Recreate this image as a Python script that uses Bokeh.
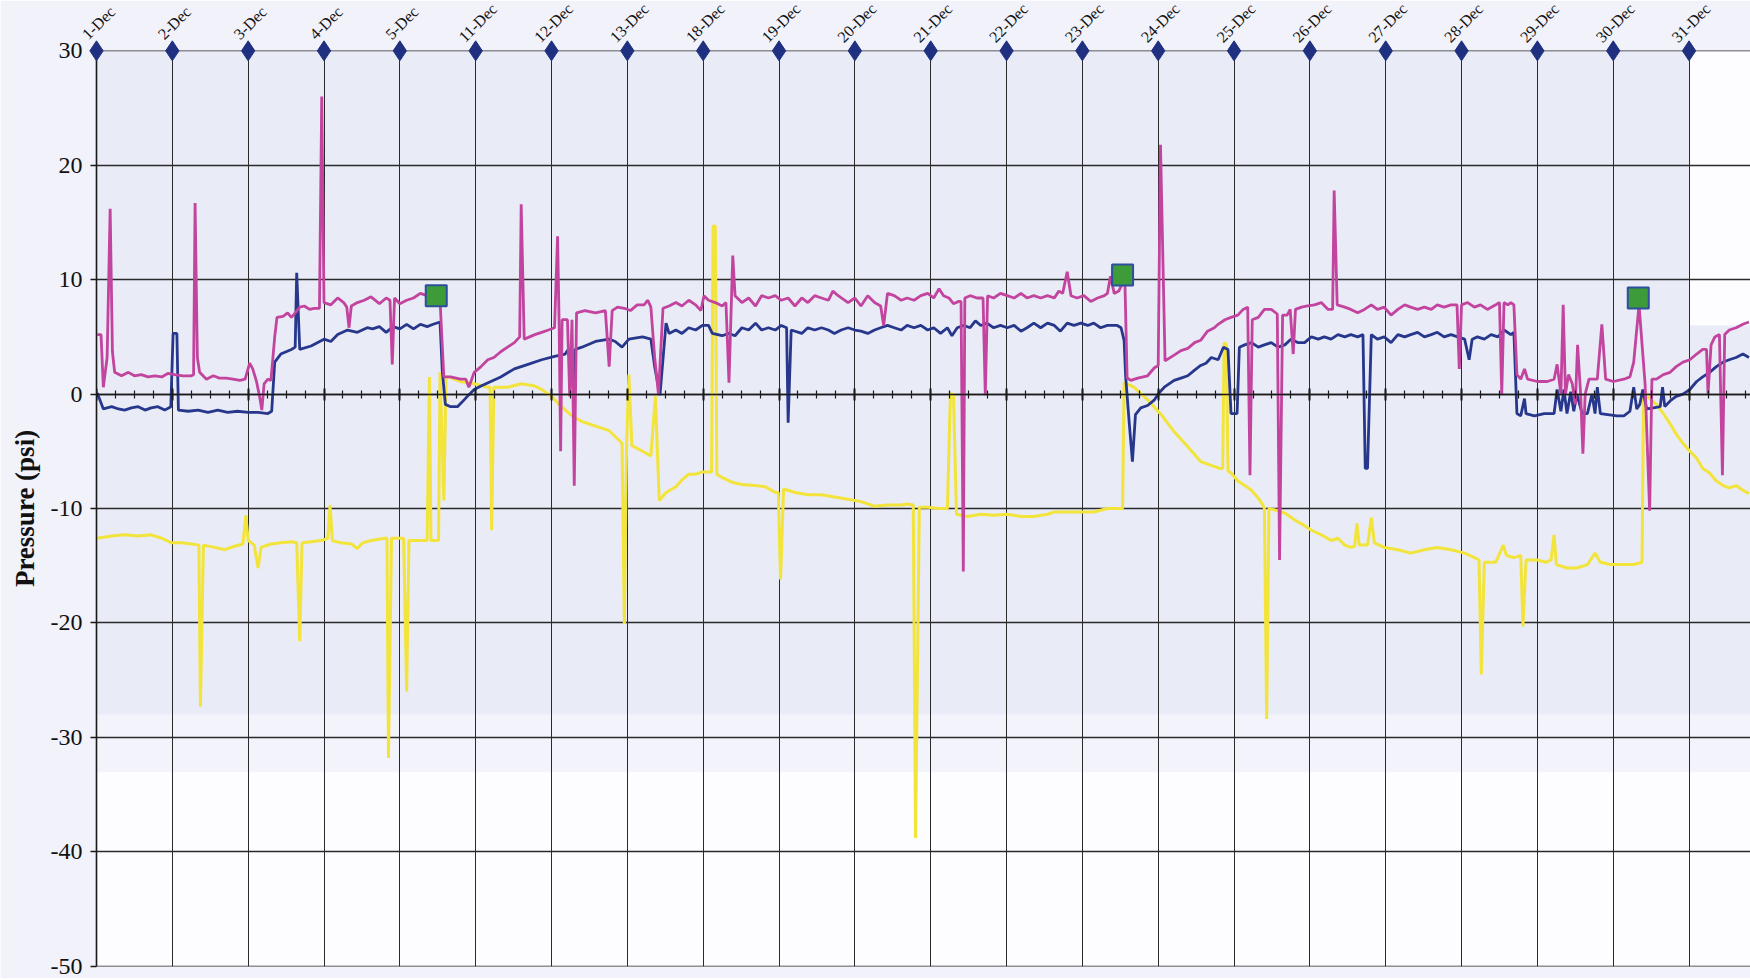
import math
from bokeh.plotting import figure
from bokeh.models import FixedTicker, Range1d, BoxAnnotation
from bokeh.core.properties import value
from bokeh.embed import file_html
from bokeh.resources import INLINE

# ---------------- data ----------------
dates = ["1-Dec", "2-Dec", "3-Dec", "4-Dec", "5-Dec", "11-Dec", "12-Dec", "13-Dec",
         "18-Dec", "19-Dec", "20-Dec", "21-Dec", "22-Dec", "23-Dec", "24-Dec", "25-Dec",
         "26-Dec", "27-Dec", "28-Dec", "29-Dec", "30-Dec", "31-Dec"]
date_pos = list(range(len(dates)))
date_marker_y = [30, 30, 30, 30, 30, 30, 30, 30, 30, 30, 30,
                 30, 30, 30, 30, 30, 30, 30, 30, 30, 30, 30]
y_ticks = [-50, -40, -30, -20, -10, 0, 10, 20, 30]

mag_x = [0.01, 0.06, 0.09, 0.14, 0.18, 0.21, 0.24, 0.33, 0.42, 0.50, 0.59, 0.68, 0.77, 0.86, 0.94, 1.03, 1.14, 1.25, 1.28, 1.30,
         1.33, 1.36, 1.45, 1.54, 1.62, 1.71, 1.80, 1.89, 1.96, 2.02, 2.06, 2.11, 2.15, 2.18, 2.21, 2.26, 2.30, 2.35, 2.38, 2.46,
         2.52, 2.57, 2.62, 2.68, 2.74, 2.81, 2.87, 2.94, 2.97, 3.00, 3.09, 3.18, 3.26, 3.30, 3.33, 3.36, 3.44, 3.53, 3.62,
         3.73, 3.82, 3.87, 3.90, 3.93, 4.00, 4.09, 4.18, 4.27, 4.36, 4.44, 4.51, 4.53, 4.58, 4.67, 4.80, 4.87, 4.91, 4.98, 5.07,
         5.16, 5.24, 5.33, 5.42, 5.51, 5.58, 5.60, 5.64, 5.71, 5.78, 5.87, 5.96, 6.04, 6.08, 6.10, 6.12, 6.14, 6.21, 6.24, 6.27,
         6.30, 6.33, 6.44, 6.58, 6.71, 6.76, 6.80, 6.87, 6.96, 7.04, 7.13, 7.22, 7.27, 7.31, 7.36, 7.41,
         7.47, 7.55, 7.64, 7.72, 7.81, 7.90, 7.97, 8.01, 8.07, 8.16, 8.25, 8.30, 8.34, 8.37, 8.39, 8.42, 8.51, 8.60, 8.69, 8.77,
         8.86, 8.95, 9.03, 9.12, 9.21, 9.30, 9.38, 9.47, 9.56, 9.65, 9.71, 9.78, 9.91, 10.00, 10.08, 10.17, 10.26, 10.34, 10.38,
         10.43, 10.52, 10.61, 10.69, 10.78, 10.87, 10.96, 11.04,
         11.11, 11.17, 11.24, 11.30, 11.37, 11.40, 11.43, 11.45, 11.52, 11.61, 11.69, 11.72, 11.75, 11.83, 11.92, 12.01, 12.10,
         12.19, 12.27, 12.36, 12.45, 12.54, 12.63, 12.69, 12.74, 12.80, 12.85, 12.93, 13.02, 13.11, 13.20, 13.29, 13.33, 13.37,
         13.42, 13.48, 13.53, 13.56, 13.59, 13.64, 13.73, 13.86, 13.95, 14.00, 14.03, 14.09, 14.21, 14.30, 14.39, 14.48, 14.56,
         14.65, 14.74,
         14.79, 14.88, 14.96, 15.05, 15.12, 15.18, 15.21, 15.24, 15.32, 15.40, 15.49, 15.57, 15.60, 15.64, 15.70, 15.74, 15.78,
         15.81, 15.89, 15.97, 16.06, 16.15, 16.24, 16.30, 16.32, 16.36, 16.46, 16.54, 16.63, 16.72, 16.81, 16.89, 16.98, 17.07,
         17.16, 17.25, 17.33, 17.42, 17.51, 17.60, 17.68, 17.77, 17.86, 17.94, 17.97, 18.00, 18.08, 18.17, 18.25, 18.34,
         18.45, 18.50, 18.53, 18.56, 18.61, 18.65, 18.69, 18.73, 18.78, 18.83, 18.87, 19.00, 19.13, 19.22, 19.26, 19.31, 19.34,
         19.37, 19.41, 19.46, 19.50, 19.53, 19.57, 19.60, 19.63, 19.68, 19.79, 19.85, 19.90, 20.00, 20.14, 20.22, 20.27, 20.34,
         20.42, 20.48, 20.51, 20.57, 20.66, 20.75, 20.83, 20.92, 21.01, 21.10, 21.18, 21.23, 21.25, 21.29, 21.34, 21.40, 21.44,
         21.47, 21.53, 21.62, 21.71, 21.79]
mag_y = [5.2, 5.2, 0.6, 3.2, 16.2, 3.7, 1.9, 1.6, 1.9, 1.6, 1.7, 1.5, 1.6, 1.5, 1.8, 1.7, 1.6, 1.6, 1.7, 16.7,
         3.2, 1.9, 1.3, 1.6, 1.4, 1.4, 1.3, 1.2, 1.3, 2.7, 2.2, 1.1, -0.2, -1.4, 0.9, 1.3, 1.2, 5.0, 6.7, 6.8,
         7.1, 6.7, 7.1, 7.6, 7.7, 7.4, 7.5, 7.5, 26.0, 8.0, 7.8, 8.4, 8.0, 7.6, 5.8, 7.7, 8.0, 8.2, 8.5,
         7.9, 8.4, 8.2, 2.6, 8.4, 7.9, 8.2, 8.4, 8.8, 8.6, 8.8, 8.6, 8.2, 1.5, 1.5, 1.3, 1.3, 0.6, 1.9, 2.4,
         3.0, 3.2, 3.7, 4.1, 4.5, 5.0, 16.6, 4.8, 5.0, 5.2, 5.4, 5.6, 5.8, 13.8, 6.2, -5.0, 6.5, 6.5, -0.2, 6.5,
         -8.0, 7.1, 7.3, 7.1, 7.3, 2.4, 7.3, 7.6, 7.5, 7.3, 7.8, 7.8, 8.2, 7.6, 3.2, 0.0,
         7.5, 7.7, 8.0, 7.7, 8.2, 7.8, 7.3, 8.6, 8.2, 8.0, 7.7, 8.0, 1.0, 7.7, 12.1, 8.6, 8.0, 8.4, 7.7, 8.6,
         8.4, 8.6, 8.2, 8.4, 7.7, 8.4, 8.0, 8.6, 8.4, 8.2, 9.0, 8.6, 8.0, 8.4, 7.7, 8.6, 8.0, 7.7, 6.0,
         8.8, 8.6, 8.2, 8.4, 8.2, 8.6, 8.8, 8.4,
         9.2, 8.6, 8.4, 7.9, 8.1, 8.1, -15.5, 8.4, 8.6, 8.4, 8.4, -0.1, 8.6, 8.4, 8.8, 8.6, 8.4,
         8.8, 8.4, 8.6, 8.4, 8.6, 8.4, 9.0, 8.8, 10.7, 8.6, 8.4, 8.6, 8.1, 8.4, 8.6, 8.8, 10.3,
         8.8, 9.0, 9.7, 10.1, 1.4, 1.2, 1.4, 1.6, 2.3, 2.5, 21.8, 2.9, 3.4, 3.8, 4.0, 4.5, 4.7,
         5.5, 5.8,
         6.1, 6.5, 6.7, 6.9, 7.4, 7.6, -7.1, 6.5, 6.7, 7.4, 7.4, 7.0, -14.5, 6.9, 6.9, 7.4, 3.5,
         7.4, 7.6, 7.7, 7.8, 8.0, 7.4, 7.4, 17.8, 7.8, 7.6, 7.4, 7.1, 7.4, 7.8, 7.4, 7.6, 6.9,
         7.4, 7.8, 7.6, 7.4, 7.6, 7.4, 7.8, 7.6, 7.8, 7.8, 2.2, 7.8, 8.0, 7.6, 7.8, 7.4,
         7.8, 8.0, 0.0, 8.0, 7.8, 8.0, 7.8, 1.7, 1.3, 2.2, 1.3, 1.1, 1.1, 1.3, 2.6, 0.0, 7.8,
         0.0, 1.7, 0.9, -0.9, 4.3, 0.0, -5.2, 0.0, 1.3, 1.3, 6.1, 1.3, 1.1, 1.3, 1.5, 2.8, 7.8,
         0.9, -10.2, 1.3, 1.3, 1.7, 1.9, 2.4, 2.8, 3.0, 3.5, 3.9, 3.9, 0.0, 4.3, 5.0, 5.2, -7.1,
         5.2, 5.6, 5.8, 6.1, 6.3]

blue_x = [0.01, 0.09, 0.20, 0.29, 0.37, 0.46, 0.55, 0.64, 0.72, 0.81, 0.90, 0.98, 1.01, 1.06, 1.08, 1.21, 1.34, 1.47, 1.60,
          1.73, 1.86, 2.00, 2.13, 2.26, 2.31, 2.35, 2.43, 2.57, 2.62, 2.64, 2.68, 2.83, 3.00, 3.09, 3.18, 3.31, 3.44, 3.57,
          3.64, 3.73, 3.82, 3.91, 4.00, 4.09, 4.18, 4.27, 4.36, 4.44, 4.53, 4.56, 4.60, 4.67, 4.76, 4.82, 4.89, 4.98, 5.07,
          5.20, 5.33, 5.51, 5.69, 5.87, 6.04, 6.18, 6.22, 6.29, 6.31, 6.40, 6.58, 6.76, 6.84, 6.93, 7.02, 7.20, 7.31, 7.36,
          7.43,
          7.51, 7.55, 7.64, 7.72, 7.81, 7.90, 7.99, 8.07, 8.12, 8.25, 8.34, 8.42, 8.51, 8.60, 8.69, 8.77, 8.86, 8.95, 9.03,
          9.10, 9.12, 9.16, 9.30, 9.38, 9.47, 9.56, 9.65, 9.73, 9.82, 9.91, 10.00, 10.08, 10.17, 10.26, 10.34, 10.43, 10.52,
          10.61, 10.69, 10.78, 10.87, 10.96, 11.04,
          11.13, 11.22, 11.28, 11.35, 11.44, 11.52, 11.59, 11.66, 11.74, 11.83, 11.92, 12.01, 12.10, 12.19, 12.27, 12.36,
          12.45, 12.54, 12.63, 12.71, 12.80, 12.89, 12.98, 13.07, 13.15, 13.24, 13.33, 13.46, 13.51, 13.55, 13.57, 13.62,
          13.66, 13.70, 13.77, 13.86, 13.95, 14.01, 14.08, 14.21, 14.30, 14.39, 14.48, 14.56, 14.63, 14.70,
          14.79, 14.86, 14.92, 14.96, 15.04, 15.07, 15.14, 15.23, 15.32, 15.40, 15.49, 15.58, 15.67, 15.75, 15.84, 15.93,
          16.02, 16.11, 16.19, 16.28, 16.37, 16.46, 16.54, 16.63, 16.70, 16.73, 16.76, 16.81, 16.89, 16.98, 17.07, 17.16,
          17.25, 17.33, 17.42, 17.51, 17.60, 17.68, 17.77, 17.86, 17.95, 18.04, 18.10, 18.14, 18.21, 18.30, 18.39,
          18.48, 18.56, 18.65, 18.69, 18.73, 18.78, 18.83, 18.85, 18.96, 19.09, 19.22, 19.26, 19.31, 19.35, 19.39, 19.44,
          19.48, 19.52, 19.59, 19.66, 19.72, 19.76, 19.79, 19.83, 20.05, 20.14, 20.22, 20.27, 20.31, 20.35, 20.39, 20.44,
          20.53, 20.62, 20.65, 20.68, 20.75, 20.83, 20.92, 21.01, 21.10, 21.18, 21.27, 21.36, 21.45, 21.53, 21.62, 21.71,
          21.79]
blue_y = [0.1, -1.3, -1.1, -1.3, -1.4, -1.2, -1.1, -1.4, -1.2, -1.1, -1.4, -1.1, 5.3, 5.3, -1.4, -1.5, -1.4, -1.6, -1.4,
          -1.6, -1.5, -1.6, -1.6, -1.7, -1.5, 2.8, 3.5, 3.9, 4.1, 10.6, 3.9, 4.2, 4.8, 4.6, 5.2, 5.6, 5.4, 5.8,
          5.7, 5.9, 5.4, 5.9, 5.7, 6.1, 5.7, 6.1, 5.9, 6.1, 6.3, 2.0, -0.9, -1.1, -1.1, -0.7, -0.2, 0.4, 0.7,
          1.1, 1.5, 2.2, 2.6, 3.0, 3.3, 3.5, 3.9, 1.1, 3.9, 4.1, 4.6, 4.8, 4.6, 4.1, 4.8, 5.0, 4.8, 2.4,
          -0.1,
          6.2, 5.3, 5.6, 5.3, 5.8, 5.6, 6.0, 6.0, 5.3, 5.1, 5.3, 5.1, 5.8, 5.6, 6.2, 5.6, 5.8, 5.6, 6.0,
          5.8, -2.5, 5.6, 5.3, 5.8, 5.6, 5.8, 5.6, 5.3, 5.6, 5.8, 5.6, 5.5, 5.3, 5.6, 5.8, 6.0, 5.8,
          5.6, 6.0, 5.8, 6.0, 5.6, 5.8,
          5.3, 5.8, 5.1, 5.8, 6.0, 5.8, 6.4, 6.0, 6.2, 5.8, 6.0, 5.8, 6.0, 5.5, 5.8, 6.2,
          5.8, 6.2, 6.0, 5.5, 6.2, 6.0, 6.2, 6.0, 6.2, 5.8, 6.0, 6.0, 5.8, 4.7, 1.6, -2.7,
          -5.9, -1.8, -1.2, -1.0, -0.5, 0.1, 0.6, 1.2, 1.4, 1.6, 2.1, 2.5, 2.7, 3.2,
          3.0, 4.1, 3.9, -1.7, -1.7, 4.1, 4.3, 4.5, 4.1, 4.3, 4.5, 4.1, 4.3, 4.8, 4.5, 4.5,
          5.0, 4.8, 5.0, 4.8, 5.2, 5.0, 5.2, 5.0, 5.2, -6.5, -6.5, 5.2, 4.8, 5.0, 4.5, 5.2,
          5.0, 5.2, 5.4, 5.0, 5.2, 5.4, 5.0, 5.2, 5.0, 4.8, 3.0, 4.8, 5.0, 4.8, 5.2,
          5.0, 5.6, 5.2, 5.4, -1.7, -1.9, -0.4, -1.7, -1.9, -1.7, -1.7, 0.4, -1.5, 0.4, -1.7, 0.2,
          -1.5, 0.0, -1.7, -1.7, 0.0, -1.7, 0.6, -1.7, -1.9, -1.9, -1.5, 0.6, -1.3, -0.9, 0.4, -1.3,
          -1.2, -1.1, 0.6, -1.1, -0.6, -0.2, 0.0, 0.4, 1.1, 1.5, 1.9, 2.4, 2.8, 3.0, 3.2, 3.5,
          3.2]

yel_x = [0.01, 0.20, 0.37, 0.55, 0.72, 0.86, 0.99, 1.12, 1.25, 1.35, 1.37, 1.41, 1.56, 1.69, 1.82, 1.93, 1.97, 2.00, 2.08,
         2.13, 2.17, 2.30, 2.43, 2.57, 2.64, 2.68, 2.71, 2.83, 2.96, 3.05, 3.08, 3.11, 3.22, 3.36, 3.44, 3.51, 3.62,
         3.80, 3.83, 3.85, 3.89, 4.05, 4.09, 4.12, 4.33, 4.36, 4.39, 4.41, 4.51, 4.53, 4.58, 4.61, 4.64, 4.80, 4.98, 5.16,
         5.19, 5.21, 5.24, 5.42, 5.60, 5.78, 5.87, 6.00, 6.13, 6.27, 6.40, 6.58, 6.76, 6.93, 6.96, 6.99, 7.02, 7.06, 7.20,
         7.31, 7.37, 7.42,
         7.51, 7.64, 7.72, 7.81, 7.90, 7.99, 8.07, 8.11, 8.13, 8.16, 8.18, 8.25, 8.38, 8.51, 8.69, 8.82, 8.95, 8.99, 9.02,
         9.06, 9.21, 9.38, 9.56, 9.73, 9.91, 10.08, 10.26, 10.43, 10.61, 10.69, 10.77, 10.80, 10.85, 10.96, 11.11,
         11.22, 11.26, 11.30, 11.34, 11.48, 11.66, 11.83, 12.01, 12.19, 12.36, 12.54, 12.63, 12.80, 12.98, 13.15, 13.33,
         13.53, 13.55, 13.68, 13.86, 14.04, 14.21, 14.39, 14.56,
         14.81, 14.85, 14.87, 14.90, 14.92, 14.96, 15.05, 15.14, 15.23, 15.32, 15.38, 15.40, 15.43, 15.46, 15.58, 15.67,
         15.80, 15.93, 16.02, 16.15, 16.28, 16.37, 16.46, 16.54, 16.59, 16.62, 16.65, 16.76, 16.81, 16.85, 16.98, 17.16,
         17.33, 17.51, 17.68, 17.86, 18.04, 18.17, 18.23, 18.26, 18.30, 18.45,
         18.55, 18.59, 18.69, 18.78, 18.81, 18.85, 19.00, 19.11, 19.18, 19.22, 19.25, 19.39, 19.52, 19.66, 19.76, 19.83,
         19.96, 20.14, 20.27, 20.38, 20.40, 20.44, 20.48, 20.57, 20.66, 20.75, 20.83, 20.92, 21.01, 21.10, 21.18, 21.27,
         21.36, 21.45, 21.53, 21.62, 21.71, 21.79]
yel_y = [-12.6, -12.4, -12.3, -12.4, -12.3, -12.6, -13.0, -13.0, -13.1, -13.2, -27.3, -13.2, -13.4, -13.6, -13.3, -13.1,
         -10.6, -12.8, -13.2, -15.2, -13.4, -13.1, -13.0, -12.9, -13.0, -21.6, -13.0, -12.9, -12.8, -12.6, -9.7, -12.8,
         -13.0, -13.1, -13.5, -13.0, -12.8,
         -12.6, -12.6, -31.8, -12.6, -12.6, -26.0, -12.8, -12.8, -12.8, 1.5, -12.8, -12.8, 1.9, -9.3, 1.5, 1.5, 1.1, 0.9,
         0.6, 0.6, -11.9, 0.6, 0.6, 0.9, 0.7, 0.4, -0.2, -1.1, -1.9, -2.4, -2.8, -3.2, -4.3, -20.1, -4.5, 1.7, -4.5, -5.0,
         -5.4, -0.2, -9.3,
         -8.6, -8.1, -7.5, -7.0, -7.0, -6.8, -6.8, -6.8, 14.7, 14.7, -7.0, -7.3, -7.7, -7.9, -8.0, -8.1, -8.6, -8.6, -16.2,
         -8.3, -8.6, -8.8, -8.8, -9.0, -9.2, -9.4, -9.8, -9.7, -9.7, -9.6, -9.7, -38.8, -9.9, -9.9, -10.0,
         -10.0, 0.1, -0.1, -10.5, -10.7, -10.5, -10.6, -10.5, -10.7, -10.7, -10.5, -10.3, -10.3, -10.3, -10.3, -10.0,
         -10.0, 1.0, 0.6, -0.5, -1.8, -3.3, -4.6, -5.9,
         -6.5, -6.5, 4.5, 4.3, -6.7, -6.9, -7.6, -8.0, -8.4, -9.1, -9.7, -10.0, -28.4, -10.0, -10.2, -10.4,
         -11.0, -11.5, -11.9, -12.3, -12.8, -12.6, -13.2, -13.4, -13.3, -11.3, -13.2, -13.2, -10.8, -13.0, -13.4, -13.6,
         -13.9, -13.6, -13.4, -13.6, -13.9, -14.3, -14.5, -24.5, -14.7, -14.7,
         -13.2, -14.1, -14.3, -14.1, -20.3, -14.5, -14.5, -14.7, -14.5, -12.3, -14.9, -15.2, -15.2, -14.9, -13.9, -14.7,
         -14.9, -14.9, -14.9, -14.7, 0.4, 0.0, -0.4, -0.9, -1.7, -2.6, -3.5, -4.3, -5.0, -5.6, -6.5, -6.9,
         -7.6, -8.0, -8.2, -8.0, -8.4, -8.7]

event_x = [4.48, 13.53, 20.33]
event_y = [8.6, 10.4, 8.4]

# ---------------- figure ----------------
p = figure(width=1750, height=978, output_backend="svg", toolbar_location=None,
           x_range=Range1d(0, 21.81), y_range=Range1d(-50.03, 30.03),
           min_border_left=96, min_border_right=0, min_border_top=50, min_border_bottom=12)
p.background_fill_color = "#e9ebf7"
p.border_fill_color = "#f1f2fa"
p.outline_line_color = None

# scan-like white areas
p.add_layout(BoxAnnotation(top=-33, fill_color="white", fill_alpha=0.9, line_color=None, level="image"))
p.add_layout(BoxAnnotation(top=-28, bottom=-33, fill_color="white", fill_alpha=0.45, line_color=None, level="image"))
p.add_layout(BoxAnnotation(left=21.0, bottom=6, fill_color="white", fill_alpha=0.9, line_color=None, level="image"))

# grids
p.xgrid.ticker = FixedTicker(ticks=date_pos)
p.xgrid.grid_line_color = "#2a2a2a"
p.xgrid.grid_line_width = 1
p.ygrid.ticker = FixedTicker(ticks=y_ticks)
p.ygrid.grid_line_color = "#2a2a2a"
p.ygrid.grid_line_width = 1.3

# x axis drawn along the zero line (date names are shown at the top instead)
quarter = [i / 4 for i in range(4 * len(dates))]
xa = p.xaxis[0]
xa.fixed_location = 0
xa.ticker = FixedTicker(ticks=date_pos, minor_ticks=quarter)
xa.axis_line_color = "#1a1a1a"
xa.axis_line_width = 1.6
xa.major_tick_in = 6
xa.major_tick_out = 6
xa.major_tick_line_width = 2
xa.major_tick_line_color = "#1a1a1a"
xa.minor_tick_in = 4
xa.minor_tick_out = 4
xa.minor_tick_line_width = 1.2
xa.minor_tick_line_color = "#1a1a1a"
xa.major_label_overrides = {i: "" for i in date_pos}
xa.major_label_text_font_size = "1px"
xa.major_label_standoff = 0

# y axis
ya = p.yaxis[0]
ya.ticker = FixedTicker(ticks=y_ticks)
ya.major_label_overrides = {t: str(t) for t in y_ticks}
ya.minor_tick_line_color = None
ya.major_tick_in = 0
ya.major_tick_out = 6
ya.major_tick_line_color = "#1a1a1a"
ya.major_tick_line_width = 1.3
ya.axis_line_color = "#1a1a1a"
ya.axis_line_width = 1.6
ya.major_label_standoff = 8
ya.major_label_text_font = "Liberation Serif"
ya.major_label_text_font_size = "24px"
ya.major_label_text_color = "#111111"
ya.axis_label = "Pressure (psi)"
ya.axis_label_text_font = "Liberation Serif"
ya.axis_label_text_font_style = "bold"
ya.axis_label_text_font_size = "27px"
ya.axis_label_text_color = "#111111"
ya.axis_label_standoff = 8

# series
p.line(yel_x, yel_y, line_color="#f2e43a", line_width=3)
p.line(blue_x, blue_y, line_color="#26378c", line_width=2.8)
p.line(mag_x, mag_y, line_color="#c2449e", line_width=2.8)

# date markers on the top line
dm = p.scatter(date_pos, date_marker_y, marker="diamond", size=20,
               fill_color="#1f3080", line_color="#1f3080")
dm.level = "overlay"

# date names above the markers, rotated
dl = p.text(x=date_pos, y=date_marker_y, text=dates, angle=math.pi / 4,
            x_offset=2, y_offset=-28, text_align="center", text_baseline="middle",
            text_font=value("Liberation Serif"), text_font_size=value("16px"),
            text_color="#111111")
dl.level = "overlay"

# event markers
p.scatter(event_x, event_y, marker="square", size=21, fill_color="#3d9b3a",
          line_color="#2c4f9e", line_width=2)

open("out.html", "w").write(file_html(p, INLINE))
